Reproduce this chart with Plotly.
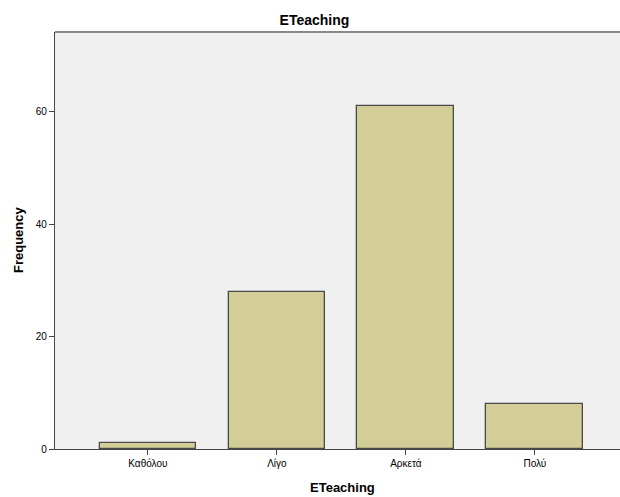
import plotly.graph_objects as go

categories = ["Καθόλου", "Λίγο", "Αρκετά", "Πολύ"]
frequency = [1, 28, 61, 8]
y_ticks = [0, 20, 40, 60]

W, H = 620, 497
L, R, T, B = 55, 0, 32, 48

fig = go.Figure()
fig.add_trace(go.Bar(
    x=list(range(len(categories))),
    y=frequency,
    width=0.75,
    marker=dict(color="#D3CE98", line=dict(color="#4A4A4A", width=1.3)),
    hoverinfo="skip",
))

fig.update_layout(
    width=W, height=H,
    margin=dict(l=L, r=R, t=T, b=B, pad=0),
    paper_bgcolor="white",
    plot_bgcolor="#F0F0F0",
    font=dict(family="Liberation Sans, Arial, sans-serif", size=10, color="black"),
    showlegend=False,
    bargap=0,
    title=dict(text="<b>ETeaching</b>", x=314.5 / W, xanchor="center",
               y=1 - 20 / H, yanchor="middle", yref="container",
               font=dict(size=14, color="black")),
    xaxis=dict(
        range=[-0.72, 3.66],
        tickmode="array",
        tickvals=list(range(len(categories))),
        ticktext=categories,
        ticks="outside", ticklen=5, tickcolor="#444444", tickwidth=1.3,
        showline=True, linecolor="#444444", linewidth=1.3,
        showgrid=False, zeroline=False,
        tickfont=dict(size=10),
    ),
    yaxis=dict(
        range=[0, 74.2],
        tickmode="array",
        tickvals=y_ticks,
        ticks="outside", ticklen=5, tickcolor="#444444", tickwidth=1.3,
        showline=True, linecolor="#444444", linewidth=1.3,
        showgrid=False, zeroline=False,
        tickfont=dict(size=10),
    ),
    annotations=[
        dict(text="<b>ETeaching</b>", xref="paper", yref="paper",
             x=(342.5 - L) / (W - L - R), y=0,
             yshift=-38, xanchor="center", yanchor="middle", showarrow=False,
             font=dict(size=13)),
        dict(text="<b>Frequency</b>", xref="paper", yref="paper", x=0, y=(449 - 240) / (449 - 32),
             xshift=-37, xanchor="center", yanchor="middle", showarrow=False,
             textangle=-90, font=dict(size=13)),
    ],
    shapes=[
        dict(type="line", xref="paper", yref="paper", x0=0, x1=1, y0=1, y1=1,
             line=dict(color="#888888", width=2)),
    ],
)

fig.write_html("out.html", config={"displayModeBar": False})
with open("out.html", "r", encoding="utf-8") as f:
    html = f.read()
html = html.replace("<head>", "<head><style>html,body{margin:0;padding:0;overflow:hidden;}</style>", 1)
with open("out.html", "w", encoding="utf-8") as f:
    f.write(html)
